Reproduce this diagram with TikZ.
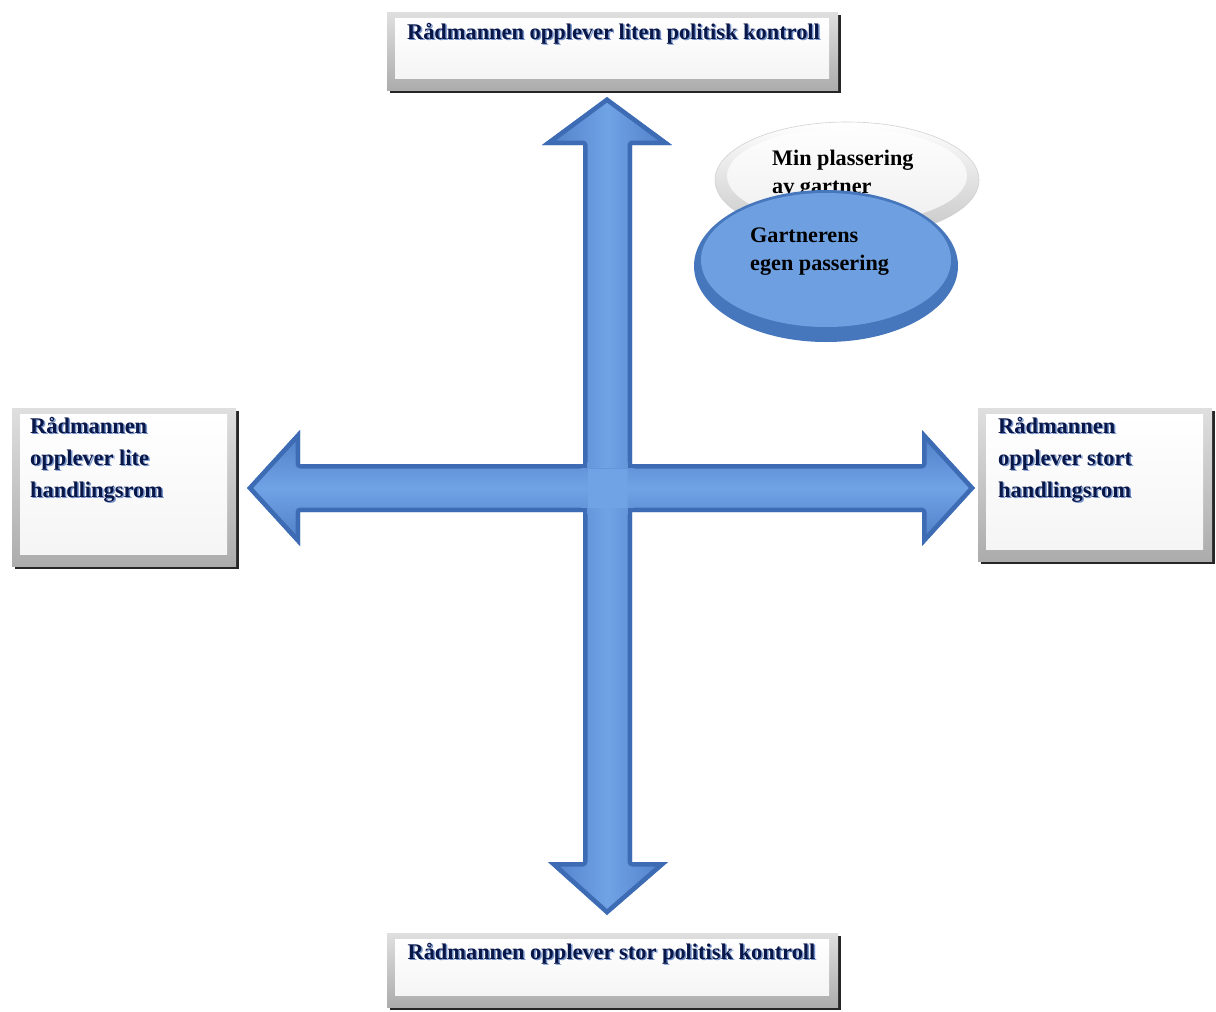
\documentclass[tikz,border=0pt]{standalone}
\usepackage{fontspec}
\setmainfont{Liberation Serif}
\usetikzlibrary{shapes.geometric}
\definecolor{navy}{RGB}{8,22,72}
\definecolor{txtshadow}{RGB}{120,150,205}
\definecolor{arrowlight}{RGB}{112,162,230}
\definecolor{arrowdark}{RGB}{62,108,180}
\definecolor{ovalblue}{RGB}{110,160,225}
\definecolor{ovaldark}{RGB}{70,118,188}
\tikzset{
  lbl/.style={font=\bfseries\fontsize{22.4}{32}\selectfont, text=navy, inner sep=0pt},
  lblshadow/.style={lbl, text=txtshadow},
  ovtext/.style={font=\bfseries\fontsize{22.2}{28}\selectfont, text=black, align=left, inner sep=0pt},
  vshade/.style={left color=arrowdark!70!arrowlight, right color=arrowdark!70!arrowlight, middle color=arrowlight},
  hshade/.style={top color=arrowdark!70!arrowlight, bottom color=arrowdark!70!arrowlight, middle color=arrowlight},
}
% bevelled white box: corners (x1,y1) top-left, (x2,y2) bottom-right
\newcommand{\bevelbox}[4]{%
  \fill[black!85] (#1+3,#2+3) rectangle (#3+3,#4+3);
  \shade[top color=gray!25, bottom color=gray!65] (#1,#2) rectangle (#3,#4);
  \shade[top color=white, bottom color=gray!8] (#1+8,#2+6) rectangle (#3-9,#4-12);
}
\begin{document}
\begin{tikzpicture}[x=1pt,y=-1pt]
\useasboundingbox[fill=white] (0,0) rectangle (1216,1012);

% ---- boxes ----
\bevelbox{387}{12}{838}{90}
\bevelbox{387}{933}{838}{1007}
\bevelbox{12}{408}{236}{566}
\bevelbox{978}{408}{1212}{561}

% ---- vertical double arrow ----
\def\vpath{(607,97) -- (672,145) -- (632,145) -- (632,862) -- (668,862) -- (607,915) -- (548,862) -- (583,862) -- (583,145) -- (542,145) -- cycle}
\begin{scope}
  \clip \vpath;
  \shade[vshade] (542,97) rectangle (672,915);
  \draw[arrowdark, line width=9pt, line join=round] \vpath;
\end{scope}

% ---- horizontal double arrow ----
\def\hpath{(247,488) -- (300,430) -- (300,464) -- (922,464) -- (922,430) -- (975,488) -- (922,546) -- (922,512) -- (300,512) -- (300,546) -- cycle}
\begin{scope}
  \clip \hpath;
  \shade[hshade] (247,430) rectangle (975,546);
  \draw[arrowdark, line width=9pt, line join=round] \hpath;
\end{scope}
% joined crossing, continuing the shaft shading
\begin{scope}
  \clip (587.5,462) rectangle (627.5,514);
  \shade[vshade] (542,97) rectangle (672,915);
\end{scope}
\begin{scope}
  \clip (581,468.5) rectangle (634,507.5);
  \shade[hshade] (247,430) rectangle (975,546);
\end{scope}
\begin{scope}
  \clip (587.5,468.5) rectangle (627.5,507.5);
  \fill[arrowlight] (587.5,468.5) rectangle (627.5,507.5);
\end{scope}

% ---- arrow ends as named coordinates ----
\coordinate (ntip) at (607,97);
\coordinate (stip) at (607,915);
\coordinate (wtip) at (247,488);
\coordinate (etip) at (975,488);

% ---- box labels ----
\node[lblshadow, anchor=base] (tshadow) at (615,40.5) {Rådmannen opplever liten politisk kontroll};
\node[lbl, anchor=base] (top) at (613.5,39) {Rådmannen opplever liten politisk kontroll};
\node[lblshadow, anchor=base] (bshadow) at (613,960.5) {Rådmannen opplever stor politisk kontroll};
\node[lbl, anchor=base] (bottom) at (611.5,959) {Rådmannen opplever stor politisk kontroll};
\node[lblshadow, anchor=north west, align=left, font=\bfseries\fontsize{22.4}{32}\selectfont] (lshadow) at (31.5,418.5) {Rådmannen\\opplever lite\\handlingsrom};
\node[lbl, anchor=north west, align=left] (left) at (30,417) {Rådmannen\\opplever lite\\handlingsrom};
\node[lblshadow, anchor=north west, align=left, font=\bfseries\fontsize{22.4}{32}\selectfont] (rshadow) at (999.5,418.5) {Rådmannen\\opplever stort\\handlingsrom};
\node[lbl, anchor=north west, align=left] (right) at (998,417) {Rådmannen\\opplever stort\\handlingsrom};

% ---- ovals ----
\shade[top color=white, bottom color=gray!45, draw=gray!35, line width=0.6pt] (847,180) ellipse [x radius=132, y radius=58];
\fill[white, opacity=0.7] (847,176) ellipse [x radius=120, y radius=48];
\node[ovtext, anchor=north west] (mine) at (772,150) {Min plassering\\av gartner};

\fill[ovaldark] (826,266) ellipse [x radius=132, y radius=76];
\fill[ovalblue] (826,260) ellipse [x radius=125, y radius=67];
\node[ovtext, anchor=north west] (own) at (750,228) {Gartnerens\\egen passering};
\end{tikzpicture}
\end{document}
